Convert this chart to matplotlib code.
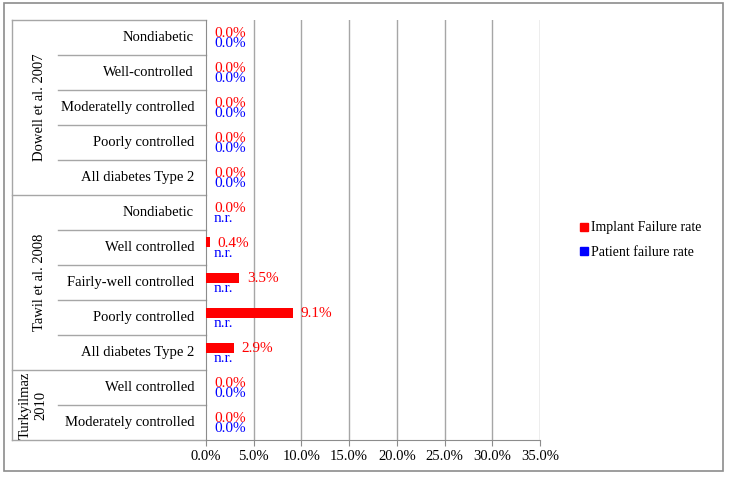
import matplotlib
matplotlib.use("Agg")
import matplotlib.pyplot as plt
from matplotlib.patches import Rectangle
from matplotlib.lines import Line2D
from matplotlib.transforms import blended_transform_factory
import numpy as np

# ---- data ----
groups = ["Dowell et al. 2007", "Tawil et al. 2008", "Turkyilmaz\n2010"]
group_sizes = [5, 5, 2]
categories = ["Nondiabetic", "Well-controlled", "Moderatelly controlled",
              "Poorly controlled", "All diabetes Type 2",
              "Nondiabetic", "Well controlled", "Fairly-well controlled",
              "Poorly controlled", "All diabetes Type 2",
              "Well controlled", "Moderately controlled"]
implant_rate = [0.0, 0.0, 0.0, 0.0, 0.0,
                0.0, 0.4, 3.5, 9.1, 2.9,
                0.0, 0.0]
patient_rate = [0.0, 0.0, 0.0, 0.0, 0.0,
                None, None, None, None, None,
                0.0, 0.0]
series_names = ["Implant Failure rate", "Patient failure rate"]
xticks = [0, 5, 10, 15, 20, 25, 30, 35]

RED = "#FF0000"
BLUE = "#0000FF"
GRID = "#A6A6A6"
FONT = "Liberation Serif"
plt.rcParams["font.family"] = [FONT, "DejaVu Serif"]

W, H = 729, 479
fig = plt.figure(figsize=(W / 100, H / 100), dpi=100)

def fx(x):
    return x / W

def fy(y):
    return 1 - y / H

ax_l, ax_r, ax_t, ax_b = 206, 540, 20, 440
ax = fig.add_axes([fx(ax_l), fy(ax_b), fx(ax_r) - fx(ax_l), fy(ax_t) - fy(ax_b)])

n = len(categories)
ypos = np.arange(n) + 0.5
bar_h = 10 / 35.0
off = 5 / 35.0

imp_vals = np.array(implant_rate, dtype=float)
pat_vals = np.array([0.0 if v is None else v for v in patient_rate])

ax.barh(ypos - off, imp_vals, height=bar_h, color=RED, zorder=3)
ax.barh(ypos + off, pat_vals, height=bar_h, color=BLUE, zorder=3)

for i in range(n):
    ax.annotate(f"{implant_rate[i]:.1f}%", xy=(imp_vals[i], ypos[i] - 0.11),
                xytext=(8, 0), textcoords="offset pixels", color=RED,
                fontsize=11, va="center", ha="left", zorder=4)
for i in range(n):
    lab = "n.r." if patient_rate[i] is None else f"{patient_rate[i]:.1f}%"
    ax.annotate(lab, xy=(pat_vals[i], ypos[i] + 0.16),
                xytext=(8, 0), textcoords="offset pixels", color=BLUE,
                fontsize=11, va="center", ha="left", zorder=5)

ax.set_xlim(0, 35)
ax.set_ylim(n, 0)
ax.set_xticks(xticks)
ax.set_xticklabels([f"{t:.1f}%" for t in xticks], fontsize=10.5)
ax.set_yticks([])
for t in xticks[1:]:
    ax.axvline(t, color=GRID, lw=1, zorder=1)
for s in ["top", "right"]:
    ax.spines[s].set_visible(False)
ax.spines["left"].set_color("#8C8C8C")
ax.spines["bottom"].set_color("#8C8C8C")
ax.tick_params(axis="x", direction="out", length=4, color="#8C8C8C", pad=3)

# ---- left category structure ----
tr = blended_transform_factory(ax.transAxes, ax.transData)
def axfrac(px):
    return (px - ax_l) / (ax_r - ax_l)

x_outer = axfrac(12)
x_inner = axfrac(58)
starts = np.cumsum([0] + group_sizes)
for k in range(n + 1):
    xs = x_outer if k in starts else x_inner
    ax.add_line(Line2D([xs, 0], [k, k], transform=tr, color=GRID, lw=1, clip_on=False))
ax.add_line(Line2D([x_outer, x_outer], [0, n], transform=tr, color=GRID, lw=1, clip_on=False))

for i, c in enumerate(categories):
    ax.text(axfrac(194), ypos[i], c, transform=tr, ha="right", va="center",
            fontsize=10.5, color="black")

group_x = [axfrac(39), axfrac(39), axfrac(33)]
for g, (name, size) in enumerate(zip(groups, group_sizes)):
    mid = starts[g] + size / 2
    ax.text(group_x[g], mid, name, transform=tr, rotation=90, ha="center",
            va="center", fontsize=10.5, linespacing=1.3)

# ---- legend ----
handles = [Line2D([], [], marker="s", linestyle="none", color=RED, markersize=5.5),
           Line2D([], [], marker="s", linestyle="none", color=BLUE, markersize=5.5)]
fig.legend(handles, series_names, loc="center left",
           bbox_to_anchor=(fx(566), fy(240)), frameon=False, fontsize=10,
           handletextpad=0.1, handlelength=0.8, labelspacing=0.8)

# ---- figure border ----
fig.patches.append(Rectangle((fx(4), fy(471)), fx(723) - fx(4), fy(3) - fy(471),
                             transform=fig.transFigure, fill=False,
                             edgecolor="#8C8C8C", lw=1.2))

fig.savefig("out.png", dpi=100)
